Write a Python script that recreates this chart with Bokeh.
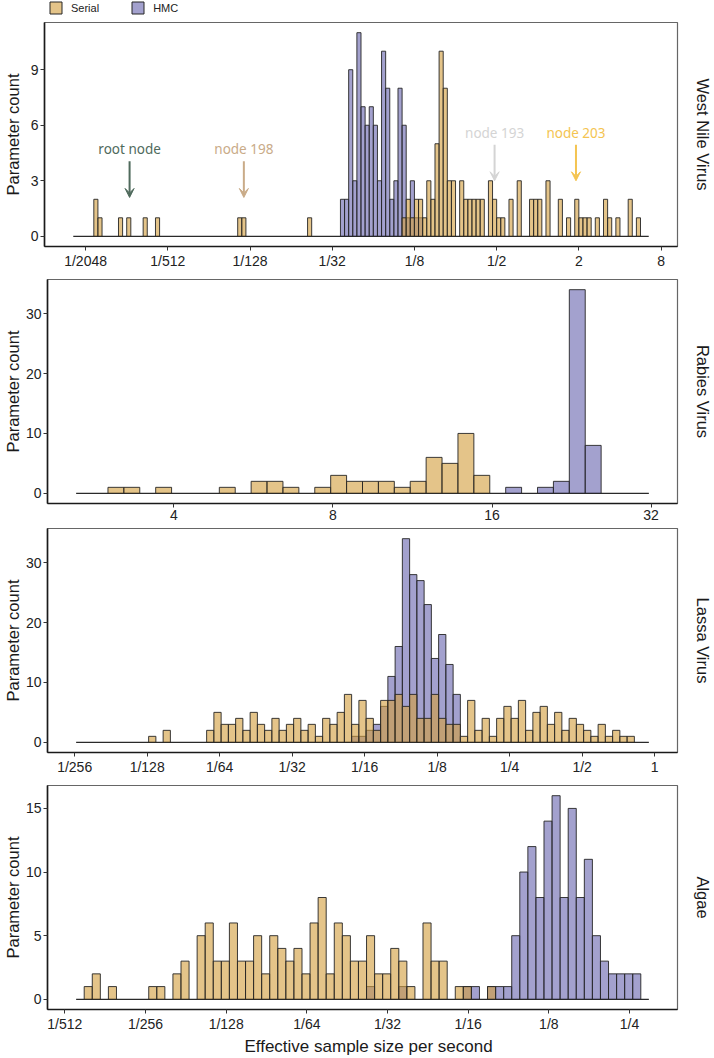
from math import pi
from bokeh.plotting import figure
from bokeh.layouts import column, row
from bokeh.models import (Range1d, FixedTicker, Label, Arrow, VeeHead, Legend,
                          LegendItem, ColumnDataSource)
from bokeh.core.properties import value
from bokeh.embed import file_html
from bokeh.resources import INLINE

# ---------------- data (log2 bins of width 0.1) ----------------
SERIAL_COLOR = "#D4A040"
HMC_COLOR = "#6A67B0"

# West Nile Virus: 140 bins starting at log2 = -11.3
wnv_start = -11.3
wnv_width = 0.1
wnv_serial = [
    0, 0, 0, 0, 0, 2, 1, 0, 0, 0,
    0, 1, 0, 1, 0, 0, 0, 1, 0, 0,
    1, 0, 0, 0, 0, 0, 0, 0, 0, 0,
    0, 0, 0, 0, 0, 0, 0, 0, 0, 0,
    1, 1, 0, 0, 0, 0, 0, 0, 0, 0,
    0, 0, 0, 0, 0, 0, 0, 1, 0, 0,
    0, 0, 0, 0, 0, 0, 0, 0, 0, 0,
    0, 0, 0, 0, 0, 0, 0, 0, 0, 0,
    1, 2, 1, 2, 2, 1, 3, 2, 5, 10,
    8, 3, 3, 0, 3, 2, 2, 2, 2, 2,
    0, 3, 2, 1, 1, 0, 2, 0, 3, 0,
    0, 2, 2, 2, 0, 3, 0, 0, 2, 0,
    1, 0, 2, 1, 1, 1, 0, 1, 0, 2,
    1, 0, 1, 0, 0, 2, 0, 1, 0, 0,
]
wnv_hmc = [
    0, 0, 0, 0, 0, 0, 0, 0, 0, 0,
    0, 0, 0, 0, 0, 0, 0, 0, 0, 0,
    0, 0, 0, 0, 0, 0, 0, 0, 0, 0,
    0, 0, 0, 0, 0, 0, 0, 0, 0, 0,
    0, 0, 0, 0, 0, 0, 0, 0, 0, 0,
    0, 0, 0, 0, 0, 0, 0, 0, 0, 0,
    0, 0, 0, 0, 0, 2, 2, 9, 3, 11,
    7, 6, 7, 6, 3, 10, 8, 2, 3, 8,
    6, 1, 3, 1, 1, 0, 0, 0, 0, 0,
    0, 0, 0, 0, 0, 0, 0, 0, 0, 0,
    0, 0, 0, 0, 0, 0, 0, 0, 0, 0,
    0, 0, 0, 0, 0, 0, 0, 0, 0, 0,
    0, 0, 0, 0, 0, 0, 0, 0, 0, 0,
    0, 0, 0, 0, 0, 0, 0, 0, 0, 0,
]
wnv_xticks = [-11, -9, -7, -5, -3, -1, 1, 3]
wnv_xlabels = ["1/2048", "1/512", "1/128", "1/32", "1/8", "1/2", "2", "8"]
wnv_yticks = [0, 3, 6, 9]

# Rabies Virus: 36 bins starting at log2 = 1.386
rab_start = 1.386
rab_width = 0.1
rab_serial = [
    0, 0, 1, 1, 0, 1, 0, 0, 0, 1,
    0, 2, 2, 1, 0, 1, 3, 2, 2, 2,
    1, 2, 6, 5, 10, 3, 0, 0, 0, 0,
    0, 0, 0, 0, 0, 0,
]
rab_hmc = [
    0, 0, 0, 0, 0, 0, 0, 0, 0, 0,
    0, 0, 0, 0, 0, 0, 0, 0, 0, 0,
    0, 0, 0, 0, 0, 0, 0, 1, 0, 1,
    2, 34, 8, 0, 0, 0,
]
rab_xticks = [2, 3, 4, 5]
rab_xlabels = ["4", "8", "16", "32"]
rab_yticks = [0, 10, 20, 30]

# Lassa Virus: 79 bins starting at log2 = -7.98
las_start = -7.98
las_width = 0.1
las_serial = [
    0, 0, 0, 0, 0, 0, 0, 0, 0, 0,
    1, 0, 2, 0, 0, 0, 0, 0, 2, 5,
    3, 3, 4, 2, 5, 3, 2, 4, 2, 3,
    4, 2, 3, 1, 4, 3, 5, 8, 3, 7,
    4, 2, 7, 7, 8, 6, 8, 4, 4, 8,
    4, 3, 3, 1, 7, 2, 4, 1, 4, 6,
    4, 7, 2, 5, 6, 3, 5, 2, 4, 3,
    2, 1, 3, 1, 2, 1, 1, 0, 0,
]
las_hmc = [
    0, 0, 0, 0, 0, 0, 0, 0, 0, 0,
    0, 0, 0, 0, 0, 0, 0, 0, 0, 0,
    0, 0, 0, 0, 0, 0, 0, 0, 0, 0,
    0, 0, 0, 0, 0, 0, 0, 0, 1, 1,
    2, 3, 6, 11, 16, 34, 28, 27, 23, 14,
    18, 13, 8, 0, 0, 0, 0, 0, 0, 0,
    0, 0, 0, 0, 0, 0, 0, 0, 0, 0,
    0, 0, 0, 0, 0, 0, 0, 0, 0,
]
las_xticks = [-8, -7, -6, -5, -4, -3, -2, -1, 0]
las_xlabels = ["1/256", "1/128", "1/64", "1/32", "1/16", "1/8", "1/4", "1/2", "1"]
las_yticks = [0, 10, 20, 30]

# Algae: 71 bins starting at log2 = -8.86
alg_start = -8.86
alg_width = 0.1
alg_serial = [
    0, 1, 2, 0, 1, 0, 0, 0, 0, 1,
    1, 0, 2, 3, 0, 5, 6, 3, 3, 6,
    3, 3, 5, 2, 5, 4, 3, 4, 2, 6,
    8, 2, 6, 5, 3, 3, 5, 2, 2, 4,
    3, 1, 0, 6, 3, 3, 0, 1, 1, 0,
    0, 1, 0, 0, 0, 0, 0, 0, 0, 0,
    0, 0, 0, 0, 0, 0, 0, 0, 0, 0,
    0,
]
alg_hmc = [
    0, 0, 0, 0, 0, 0, 0, 0, 0, 0,
    0, 0, 0, 0, 0, 0, 0, 0, 0, 0,
    0, 0, 0, 0, 0, 0, 0, 0, 0, 0,
    0, 0, 0, 0, 0, 0, 1, 0, 0, 0,
    1, 0, 0, 0, 0, 0, 0, 0, 1, 1,
    0, 1, 1, 1, 5, 10, 12, 8, 14, 16,
    8, 15, 8, 11, 5, 3, 2, 2, 2, 2,
    0,
]
alg_xticks = [-9, -8, -7, -6, -5, -4, -3, -2]
alg_xlabels = ["1/512", "1/256", "1/128", "1/64", "1/32", "1/16", "1/8", "1/4"]
alg_yticks = [0, 5, 10, 15]

# ---------------- layout constants ----------------
FONT = "Liberation Sans"
PAGE_W = 714
YLAB_W = 22
STRIP_W = 24
MAIN_W = PAGE_W - YLAB_W - STRIP_W
BORDER_L = 22
BORDER_R = 13
FRAME_H = 224
TEXT_COLOR = "#1a1a1a"


def bars(start, width, counts):
    left, right, top = [], [], []
    for i, c in enumerate(counts):
        if c > 0:
            left.append(start + i * width)
            right.append(start + (i + 1) * width)
            top.append(c)
    return ColumnDataSource(dict(left=left, right=right, top=top,
                                 bottom=[0] * len(top)))


def side_text(width, height, b_top, b_bottom, y_range, ymid, text, angle, xpos):
    f = figure(width=width, height=height, output_backend="svg",
               toolbar_location=None, x_axis_type=None, y_axis_type=None,
               x_range=Range1d(0, width), y_range=y_range,
               min_border_left=0, min_border_right=0,
               min_border_top=b_top, min_border_bottom=b_bottom)
    f.outline_line_color = None
    f.xgrid.visible = False
    f.ygrid.visible = False
    f.text(x=[xpos], y=[ymid], text=[text], angle=angle,
           text_align="center", text_baseline="middle",
           text_font=value(FONT), text_font_size="16.5px",
           text_color=TEXT_COLOR)
    return f


def make_panel(start, width, serial, hmc, xticks, xlabels, yticks, strip,
               b_top, b_bottom):
    n = len(serial)
    end = start + n * width
    span = end - start
    ymax = max(max(serial), max(hmc))
    height = b_top + FRAME_H + b_bottom
    yr = Range1d(-0.05 * ymax, 1.05 * ymax)
    p = figure(width=MAIN_W, height=height,
               output_backend="svg", toolbar_location=None,
               x_range=Range1d(start - 0.05 * span, end + 0.05 * span),
               y_range=yr,
               min_border_left=BORDER_L, min_border_right=BORDER_R,
               min_border_top=b_top, min_border_bottom=b_bottom)
    p.background_fill_color = "white"
    p.border_fill_color = "white"
    p.xgrid.visible = False
    p.ygrid.visible = False
    p.outline_line_color = "#666666"
    p.outline_line_width = 1.2

    p.segment(x0=[start], x1=[end], y0=[0], y1=[0], line_color="#2a2a2a",
              line_width=1.2)
    r_h = p.quad(left="left", right="right", top="top", bottom="bottom",
                 source=bars(start, width, hmc), fill_color=HMC_COLOR,
                 fill_alpha=0.62, line_color="#262626", line_width=1,
                 line_alpha=0.9)
    r_s = p.quad(left="left", right="right", top="top", bottom="bottom",
                 source=bars(start, width, serial), fill_color=SERIAL_COLOR,
                 fill_alpha=0.62, line_color="#262626", line_width=1,
                 line_alpha=0.9)

    p.xaxis.ticker = FixedTicker(ticks=xticks)
    p.xaxis.major_label_overrides = {t: l for t, l in zip(xticks, xlabels)}
    p.yaxis.ticker = FixedTicker(ticks=yticks)
    for ax in (p.xaxis[0], p.yaxis[0]):
        ax.major_tick_out = 4
        ax.major_tick_in = 0
        ax.minor_tick_line_color = None
        ax.axis_line_width = 1.6
        ax.axis_line_color = "#1a1a1a"
        ax.major_tick_line_color = "#333333"
        ax.major_label_text_font = FONT
        ax.major_label_text_font_size = "14px"
        ax.major_label_text_color = "#222222"
        ax.major_label_standoff = 2

    ymid = 0.5 * ymax
    left = side_text(YLAB_W, height, b_top, b_bottom, yr, ymid,
                     "Parameter count", pi / 2, 12)
    right = side_text(STRIP_W, height, b_top, b_bottom, yr, ymid,
                      strip, -pi / 2, 12)
    return p, row(left, p, right)


p1, row1 = make_panel(wnv_start, wnv_width, wnv_serial, wnv_hmc, wnv_xticks,
                      wnv_xlabels, wnv_yticks, "West Nile Virus", 7, 27)

# annotations on WNV panel
notes = [
    ("root node", -9.93, 4.7, 4.05, 2.1, "#4F6A5C"),
    ("node 198", -7.15, 4.7, 4.05, 2.1, "#C9AB88"),
    ("node 193", -1.05, 5.6, 4.95, 3.0, "#D4D4D4"),
    ("node 203", 0.93, 5.6, 4.95, 3.0, "#F4C451"),
]
for txt, xx, ty, y0, y1, col in notes:
    p1.add_layout(Label(x=xx, y=ty, text=txt, text_align="center",
                        text_baseline="middle", text_font="Noto Sans",
                        text_font_size="13.5px", text_color=col))
    p1.add_layout(Arrow(x_start=xx, y_start=y0, x_end=xx, y_end=y1,
                        line_color=col, line_width=2,
                        end=VeeHead(size=9, fill_color=col, line_color=col)))

p2, row2 = make_panel(rab_start, rab_width, rab_serial, rab_hmc, rab_xticks,
                      rab_xlabels, rab_yticks, "Rabies Virus", 6, 25)
p3, row3 = make_panel(las_start, las_width, las_serial, las_hmc, las_xticks,
                      las_xlabels, las_yticks, "Lassa Virus", 0, 27)
p4, row4 = make_panel(alg_start, alg_width, alg_serial, alg_hmc, alg_xticks,
                      alg_xlabels, alg_yticks, "Algae", 6, 26)

# legend strip on top (legend renderers hold one swatch outside the view)
lg = figure(width=PAGE_W, height=15, output_backend="svg",
            toolbar_location=None, x_axis_type=None, y_axis_type=None,
            x_range=Range1d(0, 1), y_range=Range1d(0, 1),
            min_border_left=0, min_border_right=0, min_border_top=0,
            min_border_bottom=0)
lg.outline_line_color = None
lg.xgrid.visible = False
lg.ygrid.visible = False
ls = lg.quad(left=[5], right=[6], top=[1], bottom=[0],
             fill_color=SERIAL_COLOR, fill_alpha=0.62, line_color="#262626",
             line_width=1)
lh = lg.quad(left=[5], right=[6], top=[1], bottom=[0],
             fill_color=HMC_COLOR, fill_alpha=0.62, line_color="#262626",
             line_width=1)
legend = Legend(items=[LegendItem(label="Serial", renderers=[ls]),
                       LegendItem(label="HMC", renderers=[lh])],
                orientation="horizontal", location=(48, 0))
legend.padding = 0
legend.margin = 0
legend.spacing = 31
legend.border_line_color = None
legend.background_fill_alpha = 0
legend.glyph_width = 15
legend.glyph_height = 15
legend.label_height = 15
legend.label_standoff = 8
legend.label_text_font = FONT
legend.label_text_font_size = "11px"
legend.label_text_color = "#222222"
lg.add_layout(legend)

# x-axis title strip at the bottom
xt = figure(width=PAGE_W, height=22, output_backend="svg",
            toolbar_location=None, x_axis_type=None, y_axis_type=None,
            x_range=Range1d(0, PAGE_W), y_range=Range1d(0, 22),
            min_border_left=0, min_border_right=0, min_border_top=0,
            min_border_bottom=0)
xt.outline_line_color = None
xt.xgrid.visible = False
xt.ygrid.visible = False
xt.text(x=[368], y=[11], text=["Effective sample size per second"],
        text_align="center", text_baseline="middle", text_font=value(FONT),
        text_font_size="17px", text_color=TEXT_COLOR)

layout = column(lg, row1, row2, row3, row4, xt)
open("out.html", "w").write(file_html(layout, INLINE))
